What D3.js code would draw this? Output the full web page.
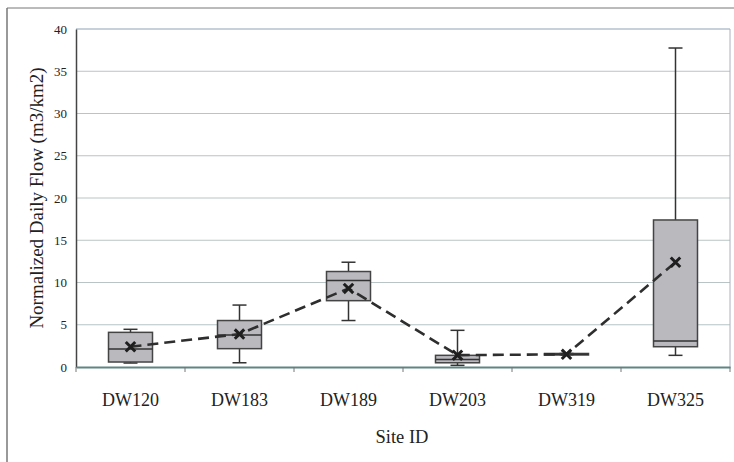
<!DOCTYPE html>
<html>
<head>
<meta charset="utf-8">
<script src="https://cdn.jsdelivr.net/npm/d3@7"></script>
<style>
  html, body { margin: 0; padding: 0; background: #fff; }
  svg { display: block; }
  svg text { font-family: "Liberation Serif", "Times New Roman", "DejaVu Serif", serif; fill: #222; }
</style>
</head>
<body>
<svg id="chart" width="734" height="462"></svg>
<script>
// Site categories and box-plot statistics (m3/km2)
const sites      = ["DW120", "DW183", "DW189", "DW203", "DW319", "DW325"];
const whiskerLow = [0.47, 0.5, 5.5, 0.2, 1.45, 1.38];
const q1         = [0.59, 2.17, 7.85, 0.5, 1.42, 2.4];
const medians    = [2.13, 3.8, 10.25, 0.9, 1.5, 3.08];
const q3         = [4.1, 5.5, 11.3, 1.38, 1.6, 17.4];
const whiskerHigh= [4.46, 7.33, 12.4, 4.34, 1.6, 37.75];
const means      = [2.4, 3.9, 9.3, 1.4, 1.5, 12.4];
const yTicks     = [0, 5, 10, 15, 20, 25, 30, 35, 40];

const svg = d3.select("#chart");
const plot = { left: 76, right: 730, top: 29, bottom: 367 };
const serif = "'Liberation Serif', 'Times New Roman', serif";

// Outer frame
svg.append("line").attr("x1", 7).attr("x2", 7).attr("y1", 8).attr("y2", 462)
  .attr("stroke", "#555").attr("stroke-width", 1.2);
svg.append("line").attr("x1", 7).attr("x2", 734).attr("y1", 8).attr("y2", 8)
  .attr("stroke", "#777").attr("stroke-width", 1);

const x = d3.scaleBand().domain(sites).range([plot.left, plot.right]);
const y = d3.scaleLinear().domain([0, 40]).range([plot.bottom, plot.top]);

// Horizontal gridlines
svg.append("g").selectAll("line").data(yTicks.filter(t => t > 0)).join("line")
  .attr("x1", plot.left).attr("x2", plot.right)
  .attr("y1", d => y(d)).attr("y2", d => y(d))
  .attr("stroke", d => d === 40 ? "#8fa3b3" : "#b9c4c4").attr("stroke-width", 1);

// Plot area border (right side)
svg.append("line").attr("x1", plot.right).attr("x2", plot.right)
  .attr("y1", plot.top).attr("y2", plot.bottom)
  .attr("stroke", "#aab0c0").attr("stroke-width", 1);

// Y axis
const yAxis = svg.append("g").attr("transform", `translate(${plot.left},0)`)
  .call(d3.axisLeft(y).tickValues(yTicks).tickSize(0).tickPadding(9));
yAxis.attr("font-family", null);
yAxis.select(".domain").attr("stroke", "#444").attr("stroke-width", 1.5);
yAxis.selectAll("text").style("font-family", serif).attr("font-size", 13);

// X axis
const xAxis = svg.append("g").attr("transform", `translate(0,${plot.bottom})`)
  .call(d3.axisBottom(x).tickSize(0).tickPadding(26));
xAxis.attr("font-family", null);
xAxis.select(".domain").attr("stroke", "#5f8585").attr("stroke-width", 2);
xAxis.selectAll("text").style("font-family", serif).attr("font-size", 18);
// Category separator ticks
svg.append("g").selectAll("line").data(sites).join("line")
  .attr("x1", d => x(d)).attr("x2", d => x(d))
  .attr("y1", plot.bottom).attr("y2", plot.bottom + 5)
  .attr("stroke", "#777").attr("stroke-width", 1);
svg.append("line").attr("x1", plot.right).attr("x2", plot.right)
  .attr("y1", plot.bottom).attr("y2", plot.bottom + 5)
  .attr("stroke", "#777");

// Axis titles
svg.append("text")
  .attr("transform", `translate(43,${198}) rotate(-90)`)
  .attr("text-anchor", "middle")
  .style("font-family", serif).attr("font-size", 19)
  .text("Normalized Daily Flow (m3/km2)");
svg.append("text")
  .attr("x", 402).attr("y", 443).attr("text-anchor", "middle")
  .style("font-family", serif).attr("font-size", 18.5)
  .text("Site ID");

// Box plots
const boxW = 44;
const cx = i => x(sites[i]) + x.bandwidth() / 2;
const g = svg.append("g");
sites.forEach((s, i) => {
  const c = cx(i);
  // whiskers
  g.append("line").attr("x1", c).attr("x2", c)
    .attr("y1", y(whiskerHigh[i])).attr("y2", y(q3[i]))
    .attr("stroke", "#333").attr("stroke-width", 1.5);
  g.append("line").attr("x1", c).attr("x2", c)
    .attr("y1", y(q1[i])).attr("y2", y(whiskerLow[i]))
    .attr("stroke", "#333").attr("stroke-width", 1.5);
  [whiskerHigh[i], whiskerLow[i]].forEach(v => {
    g.append("line").attr("x1", c - 7).attr("x2", c + 7)
      .attr("y1", y(v)).attr("y2", y(v))
      .attr("stroke", "#333").attr("stroke-width", 1.5);
  });
  // box
  g.append("rect").attr("x", c - boxW / 2).attr("width", boxW)
    .attr("y", y(q3[i])).attr("height", Math.max(1, y(q1[i]) - y(q3[i])))
    .attr("fill", "#b9b9be").attr("stroke", "#444").attr("stroke-width", 1.5);
  // median
  g.append("line").attr("x1", c - boxW / 2).attr("x2", c + boxW / 2)
    .attr("y1", y(medians[i])).attr("y2", y(medians[i]))
    .attr("stroke", "#333").attr("stroke-width", 1.5);
});

// Dashed line through the means
const line = d3.line().x((d, i) => cx(i)).y(d => y(d));
svg.append("path").datum(means).attr("d", line)
  .attr("fill", "none").attr("stroke", "#2e2e2e").attr("stroke-width", 2.6)
  .attr("stroke-dasharray", "11,6");

// Mean markers (x)
svg.append("g").selectAll("path").data(means).join("path")
  .attr("transform", (d, i) => `translate(${cx(i)},${y(d)})`)
  .attr("d", d3.symbol(d3.symbolX, 60))
  .attr("fill", "none").attr("stroke", "#1e1e1e").attr("stroke-width", 3);
</script>
</body>
</html>
